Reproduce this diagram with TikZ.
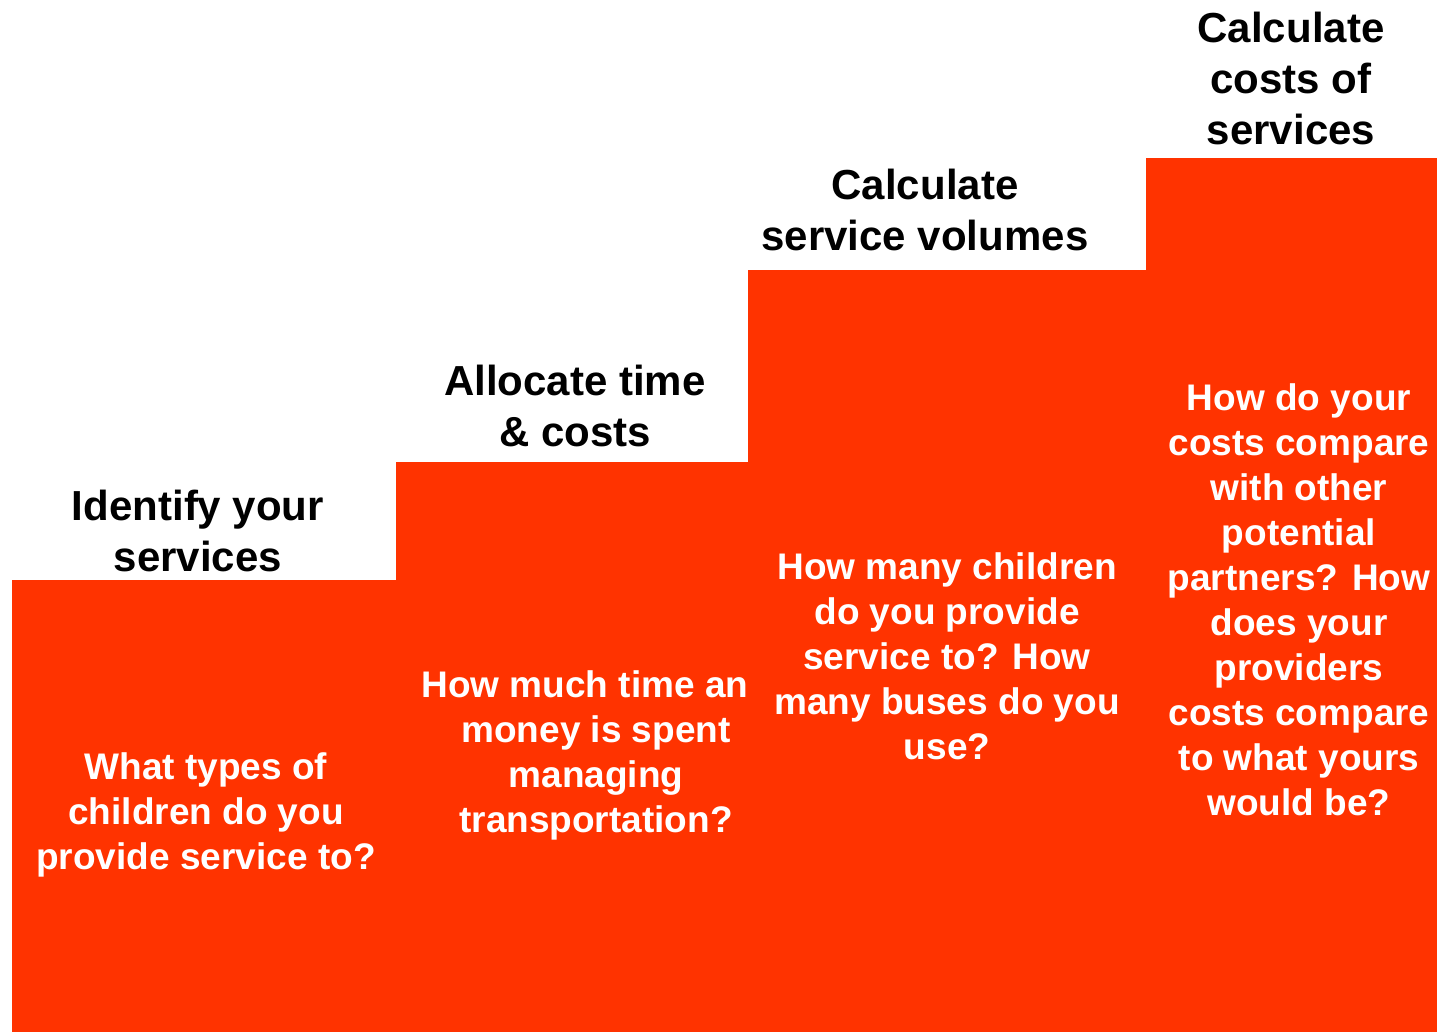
\documentclass[tikz,border=0pt]{standalone}
\usepackage{fontspec}
\setmainfont{Liberation Sans}
\definecolor{stepred}{HTML}{FF3300}
\tikzset{
  stepfill/.style={fill=stepred, draw=none},
  headtext/.style={align=center, inner sep=0pt, text=black, font=\bfseries\fontsize{42}{51}\selectfont},
  bodytext/.style={align=center, inner sep=0pt, text=white, font=\bfseries\fontsize{37}{45}\selectfont}
}
\begin{document}
\begin{tikzpicture}[x=1pt,y=-1pt]
\useasboundingbox (0,0) rectangle (1437,1032);
\fill[white] (0,0) rectangle (1437,1032);
% steps
\path[stepfill] (12,580) rectangle (397,1032);
\path[stepfill] (396,462) rectangle (749,1032);
\path[stepfill] (748,270) rectangle (1147,1032);
\path[stepfill] (1146,158) rectangle (1437,1032);
% headings
\node[headtext] (h1) at (198,531) {Identify your\\services};
\node[headtext] (h2) at (575,406) {Allocate time\\\& costs};
\node[headtext] (h3) at (925,210) {Calculate\\service volumes};
\node[headtext] (h4) at (1291,78) {Calculate\\costs of\\services};
% questions
\node[bodytext] (q1) at (206,815) {What types of\\children do you\\provide service to?};
\node[bodytext] (q2) at (596,755) {How much time an\hspace*{22pt}\\money is spent\\managing\\transportation?};
\node[bodytext] (q3) at (947,656) {How many children\\do you provide\\service to? How\\many buses do you\\use?};
\node[bodytext] (q4) at (1299,600) {How do your\\costs compare\\with other\\potential\\partners? How\\does your\\providers\\costs compare\\to what yours\\would be?};
\end{tikzpicture}
\end{document}
